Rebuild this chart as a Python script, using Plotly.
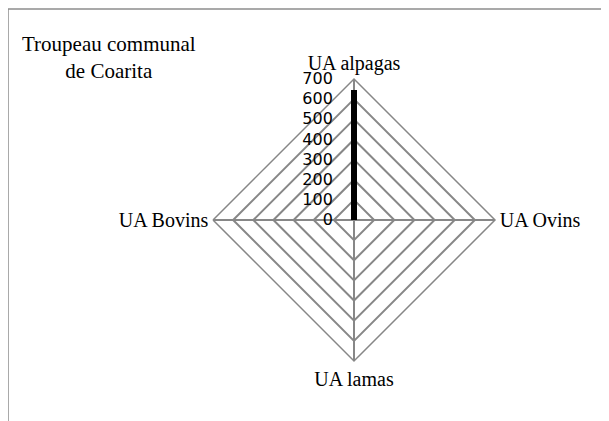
import plotly.graph_objects as go

categories = ["UA alpagas", "UA Ovins", "UA lamas", "UA Bovins"]
values = [645, 0, 0, 0]
tick_vals = [0, 100, 200, 300, 400, 500, 600, 700]
title_lines = ["Troupeau communal", "de Coarita"]

W, H = 609, 421
OFF = 8  # page body margin
cx, cy, rad = 354 - OFF, 220 - OFF, 141

fig = go.Figure()
fig.add_trace(go.Scatterpolar(
    r=values + values[:1],
    theta=categories + categories[:1],
    mode="lines",
    line=dict(color="black", width=6),
    hoverinfo="skip",
    showlegend=False,
))

grid = "#878787"
fig.update_layout(
    width=W, height=H,
    margin=dict(l=0, r=0, t=0, b=0),
    paper_bgcolor="white",
    plot_bgcolor="white",
    polar=dict(
        domain=dict(x=[(cx - rad) / W, (cx + rad) / W],
                    y=[(H - cy - rad) / H, (H - cy + rad) / H]),
        gridshape="linear",
        bgcolor="white",
        radialaxis=dict(
            range=[0, 700],
            tickvals=tick_vals,
            angle=90,
            side="counterclockwise",
            tickangle=90,
            showline=False,
            gridcolor=grid,
            gridwidth=1.5,
            ticks="outside",
            ticklen=15,
            tickcolor="rgba(0,0,0,0)",
            tickfont=dict(family="DejaVu Sans, Noto Sans, sans-serif", size=16, color="#000"),
        ),
        angularaxis=dict(
            rotation=90,
            direction="clockwise",
            gridcolor=grid,
            gridwidth=1.5,
            linecolor=grid,
            linewidth=1.5,
            ticks="",
            tickfont=dict(family="Liberation Serif, serif", size=20, color="#000"),
        ),
    ),
    annotations=[dict(
        text="<br>".join(title_lines),
        x=(109 - OFF) / W, y=1 - (58 - OFF) / H,
        xref="paper", yref="paper",
        xanchor="center", yanchor="middle",
        showarrow=False, align="center",
        font=dict(family="Liberation Serif, serif", size=21, color="#000"),
    )],
    shapes=[
        dict(type="line", xref="paper", yref="paper",
             x0=0, x1=1, y0=1 - (9 - OFF) / H, y1=1 - (9 - OFF) / H,
             line=dict(color="#8c8c8c", width=1.5)),
        dict(type="line", xref="paper", yref="paper",
             x0=(7 - OFF + 1) / W, x1=(7 - OFF + 1) / W, y0=0, y1=1 - (9 - OFF) / H,
             line=dict(color="#8c8c8c", width=1.5)),
    ],
)

fig.write_html("out.html")
